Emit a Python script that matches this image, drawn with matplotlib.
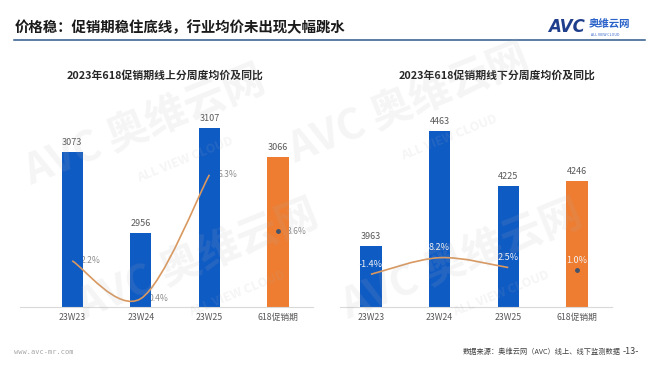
import matplotlib
matplotlib.use("Agg")
import matplotlib.pyplot as plt
from matplotlib.path import Path
from matplotlib.patches import PathPatch
from matplotlib.lines import Line2D

plt.rcParams['font.family'] = ['Noto Sans CJK SC', 'DejaVu Sans']

# ---- data ----
categories = ["23W23", "23W24", "23W25", "618促销期"]
online_price = [3073, 2956, 3107, 3066]
online_yoy = [2.2, 0.4, 6.3, 3.6]
offline_price = [3963, 4463, 4225, 4246]
offline_yoy = [-1.4, 8.2, 2.5, 1.0]
online_title = "2023年618促销期线上分周度均价及同比"
offline_title = "2023年618促销期线下分周度均价及同比"
page_title = "价格稳：促销期稳住底线，行业均价未出现大幅跳水"
source_text = "数据来源：奥维云网（AVC）线上、线下监测数据"

BLUE = "#0F5BC4"
ORANGE = "#EE7D31"
LINE = "#D9985F"

fig = plt.figure(figsize=(6.6, 3.72), dpi=100)
fig.patch.set_facecolor("white")

# watermarks
for (x, y) in [(0.22, 0.66), (0.30, 0.30), (0.62, 0.72), (0.70, 0.30)]:
    fig.text(x, y, "AVC 奥维云网", fontsize=30, fontweight='bold', color="#b0b0b0",
             alpha=0.13, rotation=22, ha='center', va='center', zorder=10)
    fig.text(x + 0.06, y - 0.09, "ALL VIEW CLOUD", fontsize=9, fontweight='bold', color="#b0b0b0",
             alpha=0.13, rotation=22, ha='center', va='center', zorder=10)


def smooth_path(xs, ys):
    pts = list(zip(xs, ys))
    n = len(pts)
    verts = [pts[0]]
    codes = [Path.MOVETO]
    for i in range(n - 1):
        p0 = pts[i - 1] if i > 0 else pts[i]
        p1 = pts[i]
        p2 = pts[i + 1]
        p3 = pts[i + 2] if i + 2 < n else pts[i + 1]
        c1 = (p1[0] + (p2[0] - p0[0]) / 6, p1[1] + (p2[1] - p0[1]) / 6)
        c2 = (p2[0] - (p3[0] - p1[0]) / 6, p2[1] - (p3[1] - p1[1]) / 6)
        verts += [c1, c2, p2]
        codes += [Path.CURVE4] * 3
    return Path(verts, codes)


def panel(rect, prices, yoy, ylim, y2lim, xlim, title, label_mode, title_shift):
    ax = fig.add_axes(rect)
    x = list(range(len(categories)))
    colors = [BLUE] * (len(categories) - 1) + [ORANGE]
    ax.bar(x, prices, width=0.31, color=colors, zorder=2)
    for xi, v in zip(x, prices):
        ax.text(xi, v + (ylim[1] - ylim[0]) * 0.025, f"{v}", ha='center', va='bottom',
                fontsize=6.5, color="#595959", zorder=3)
    ax.set_ylim(*ylim)
    ax.set_xlim(*xlim)
    ax.set_xticks(x)
    ax.set_xticklabels(categories, fontsize=6.3, color="#595959")
    ax.tick_params(axis='x', length=0, pad=4)
    ax.set_yticks([])
    for s in ['top', 'right', 'left']:
        ax.spines[s].set_visible(False)
    ax.spines['bottom'].set_color("#d9d9d9")
    ax.spines['bottom'].set_linewidth(0.8)
    ax.patch.set_alpha(0)

    ax2 = ax.twinx()
    ax2.set_ylim(*y2lim)
    ax2.set_xlim(*xlim)
    ax2.axis('off')
    path = smooth_path(x[:3], yoy[:3])
    ax2.add_patch(PathPatch(path, facecolor='none', edgecolor=LINE, lw=1.2, zorder=3))
    ax2.plot([x[3]], [yoy[3]], 'o', color="#44546A", ms=2.5, zorder=4)

    for xi, v in zip(x, yoy):
        if label_mode == 'right':
            # labels drawn beneath the bars on the primary axes
            ax.text(xi + 0.12, v, f"{v:.1f}%", transform=ax2.transData, ha='left', va='center',
                    fontsize=6.2, color="#8c8c8c", zorder=1)
        else:
            ax2.text(xi, v + (y2lim[1] - y2lim[0]) * 0.025, f"{v:.1f}%", ha='center', va='bottom',
                     fontsize=6.5, color="#f2f2f2", zorder=5)
    fig.text(rect[0] + rect[2] * 0.5 + title_shift, 0.798, title,
             ha='center', va='center', fontsize=7.8, fontweight='bold', color="#262626")
    return ax


panel([0.0303, 0.1747, 0.444, 0.570], online_price, online_yoy,
      (2850, 3155), (0.0, 10.1), (-0.76, 3.51), online_title, 'right', -0.003)
panel([0.5152, 0.1747, 0.412, 0.570], offline_price, offline_yoy,
      (3700, 4619), (-20.3, 102.2), (-0.45, 3.51), offline_title, 'above', 0.032)

# header
fig.text(0.022, 0.925, page_title, ha='left', va='center', fontsize=10.4,
         fontweight='bold', color="#1a1a1a")
fig.add_artist(Line2D([0.021, 0.977], [0.8925, 0.8925], color="#2E5A8C", lw=1.1))
fig.text(0.830, 0.927, "AVC", ha='left', va='center', fontsize=12, fontweight='black',
         fontstyle='italic', color="#1F3F8C", family='DejaVu Sans')
fig.text(0.892, 0.935, "奥维云网", ha='left', va='center', fontsize=7.5, fontweight='bold',
         color="#2A62C9")
fig.text(0.896, 0.905, "ALL VIEW CLOUD", ha='left', va='center', fontsize=2.6,
         color="#2A62C9")

# footer
fig.text(0.021, 0.053, "www.avc-mr.com", ha='left', va='center', fontsize=5,
         color="#a6a6a6", family='DejaVu Sans Mono')
fig.text(0.940, 0.053, source_text, ha='right', va='center', fontsize=5.2, color="#404040")
fig.text(0.944, 0.055, "-13-", ha='left', va='center', fontsize=6.5, color="#404040")

fig.savefig("out.png", dpi=100)
